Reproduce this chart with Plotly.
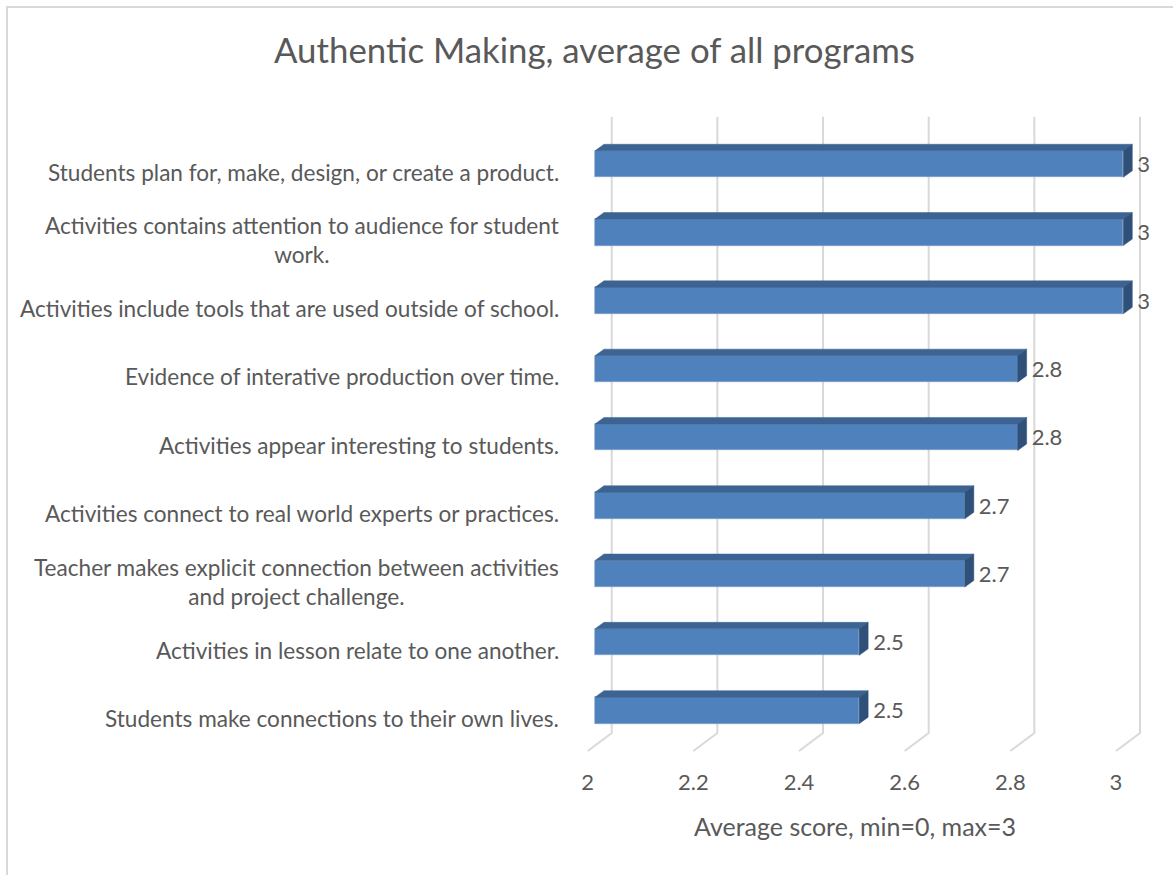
import plotly.graph_objects as go

# ---- data -----------------------------------------------------------------
categories = [
    "Students plan for, make, design, or create a product.",
    "Activities contains attention to audience for student<br>work.",
    "Activities include tools that are used outside of school.",
    "Evidence of interative production over time.",
    "Activities appear interesting to students.",
    "Activities connect to real world experts or practices.",
    "Teacher makes explicit connection between activities<br>and project challenge.",
    "Activities in lesson relate to one another.",
    "Students make connections to their own lives.",
]
scores = [3, 3, 3, 2.8, 2.8, 2.7, 2.7, 2.5, 2.5]
x_ticks = [2, 2.2, 2.4, 2.6, 2.8, 3]
x_tick_labels = ["2", "2.2", "2.4", "2.6", "2.8", "3"]
x_min = 2

title_text = "Authentic Making, average of all programs"
x_title_text = "Average score, min=0, max=3"

# ---- layout geometry (pixels) --------------------------------------------
W, H = 1173, 875
PL, PR, PT, PB = 580, 1168, 90, 850          # plot area
X0_PX, X_SCALE = 595.0, 528.3                # value 2 on the bar front plane, px per unit
ROW0_PX, ROW_STEP = 164.0, 68.3              # centre of the first row, row pitch
n = len(categories)
YBOT_PX = ROW0_PX + ROW_STEP * (n - 1)


def px_x(p):
    return x_min + (p - X0_PX) / X_SCALE


def px_y(p):
    return (YBOT_PX - p) / ROW_STEP


def paper_x(p):
    return (p - PL) / (PR - PL)


def paper_y(p):
    return (PB - p) / (PB - PT)


def dx(p):
    return p / X_SCALE


def dy(p):
    return p / ROW_STEP


TEXT = "#595959"
FONT = "Lato"
FRONT = "#4F81BD"
TOP = "#3C6391"
SIDE = "#2F5079"
GRID = "#D9D9D9"

ys = [n - 1 - i for i in range(n)]           # first category on top
bar_h = dy(26.5)
ox, oy = dx(9), dy(6.5)                      # bar depth offset

fig = go.Figure()

# front faces of the bars
fig.add_trace(go.Bar(
    y=ys, x=[v - x_min for v in scores], base=x_min, orientation="h",
    width=bar_h, marker=dict(color=FRONT, line=dict(color="#7FA3D1", width=0.6)),
    showlegend=False, hoverinfo="skip"))

# top and side faces
tx, ty, sx, sy = [], [], [], []
for y, v in zip(ys, scores):
    top = y + bar_h / 2
    bot = y - bar_h / 2
    tx += [x_min, v, v + ox, x_min + ox, x_min, None]
    ty += [top, top, top + oy, top + oy, top, None]
    sx += [v, v + ox, v + ox, v, v, None]
    sy += [top, top + oy, bot + oy, bot, top, None]
fig.add_trace(go.Scatter(x=tx, y=ty, mode="lines", fill="toself",
                         fillcolor=TOP, line=dict(color=TOP, width=0.5),
                         hoverinfo="skip", showlegend=False))
fig.add_trace(go.Scatter(x=sx, y=sy, mode="lines", fill="toself",
                         fillcolor=SIDE, line=dict(color=SIDE, width=0.5),
                         hoverinfo="skip", showlegend=False))

# value labels
fig.add_trace(go.Scatter(
    x=[v + dx(14) for v in scores], y=[y - dy(2.5) for y in ys],
    mode="text", text=[f"{v:g}" for v in scores], textposition="middle right",
    textfont=dict(family=FONT, size=22, color=TEXT),
    hoverinfo="skip", showlegend=False, cliponaxis=False))

# value-axis tick labels on the front edge of the floor
fig.add_trace(go.Scatter(
    x=[t - dx(7.3) for t in x_ticks], y=[px_y(784)] * len(x_ticks),
    mode="text", text=x_tick_labels, textposition="middle center",
    textfont=dict(family=FONT, size=22, color=TEXT),
    hoverinfo="skip", showlegend=False, cliponaxis=False))

# back-wall gridlines with their floor diagonals (kept behind the bars)
shapes = []
for t in x_ticks:
    shapes.append(dict(type="path", xref="x", yref="y", layer="below",
                       path=(f"M {t + dx(16.7)},{px_y(116.7)} "
                             f"L {t + dx(16.7)},{px_y(733)} "
                             f"L {t - dx(7.3)},{px_y(751)}"),
                       line=dict(color=GRID, width=2)))

# outer chart border (only the left and top edges fall inside the page)
shapes.append(dict(type="rect", xref="paper", yref="paper", layer="below",
                   x0=paper_x(7), x1=paper_x(W + 20),
                   y0=paper_y(H + 20), y1=paper_y(7),
                   line=dict(color=GRID, width=2), fillcolor="rgba(0,0,0,0)"))

annotations = []
for y, c in zip(ys, categories):
    annotations.append(dict(
        x=paper_x(561), y=y - dy(8), xref="paper", yref="y", text=c,
        showarrow=False, xanchor="right", yanchor="middle", align="center",
        font=dict(family=FONT, size=22.6, color=TEXT)))
annotations.append(dict(
    x=paper_x(854.5), y=paper_y(826), xref="paper", yref="paper",
    text=x_title_text, showarrow=False, xanchor="center", yanchor="middle",
    font=dict(family=FONT, size=25, color=TEXT)))
annotations.append(dict(
    x=paper_x(594), y=paper_y(49), xref="paper", yref="paper",
    text=title_text, showarrow=False, xanchor="center", yanchor="middle",
    font=dict(family=FONT, size=34.8, color=TEXT)))

fig.update_layout(
    width=W, height=H,
    margin=dict(l=PL, r=W - PR, t=PT, b=H - PB, pad=0),
    paper_bgcolor="white", plot_bgcolor="white",
    xaxis=dict(range=[px_x(PL), px_x(PR)], showgrid=False, zeroline=False,
               showticklabels=False, showline=False, fixedrange=True),
    yaxis=dict(range=[px_y(PB), px_y(PT)], showgrid=False, zeroline=False,
               showticklabels=False, showline=False, fixedrange=True),
    bargap=0, annotations=annotations, shapes=shapes,
)

fig.write_html("out.html")
